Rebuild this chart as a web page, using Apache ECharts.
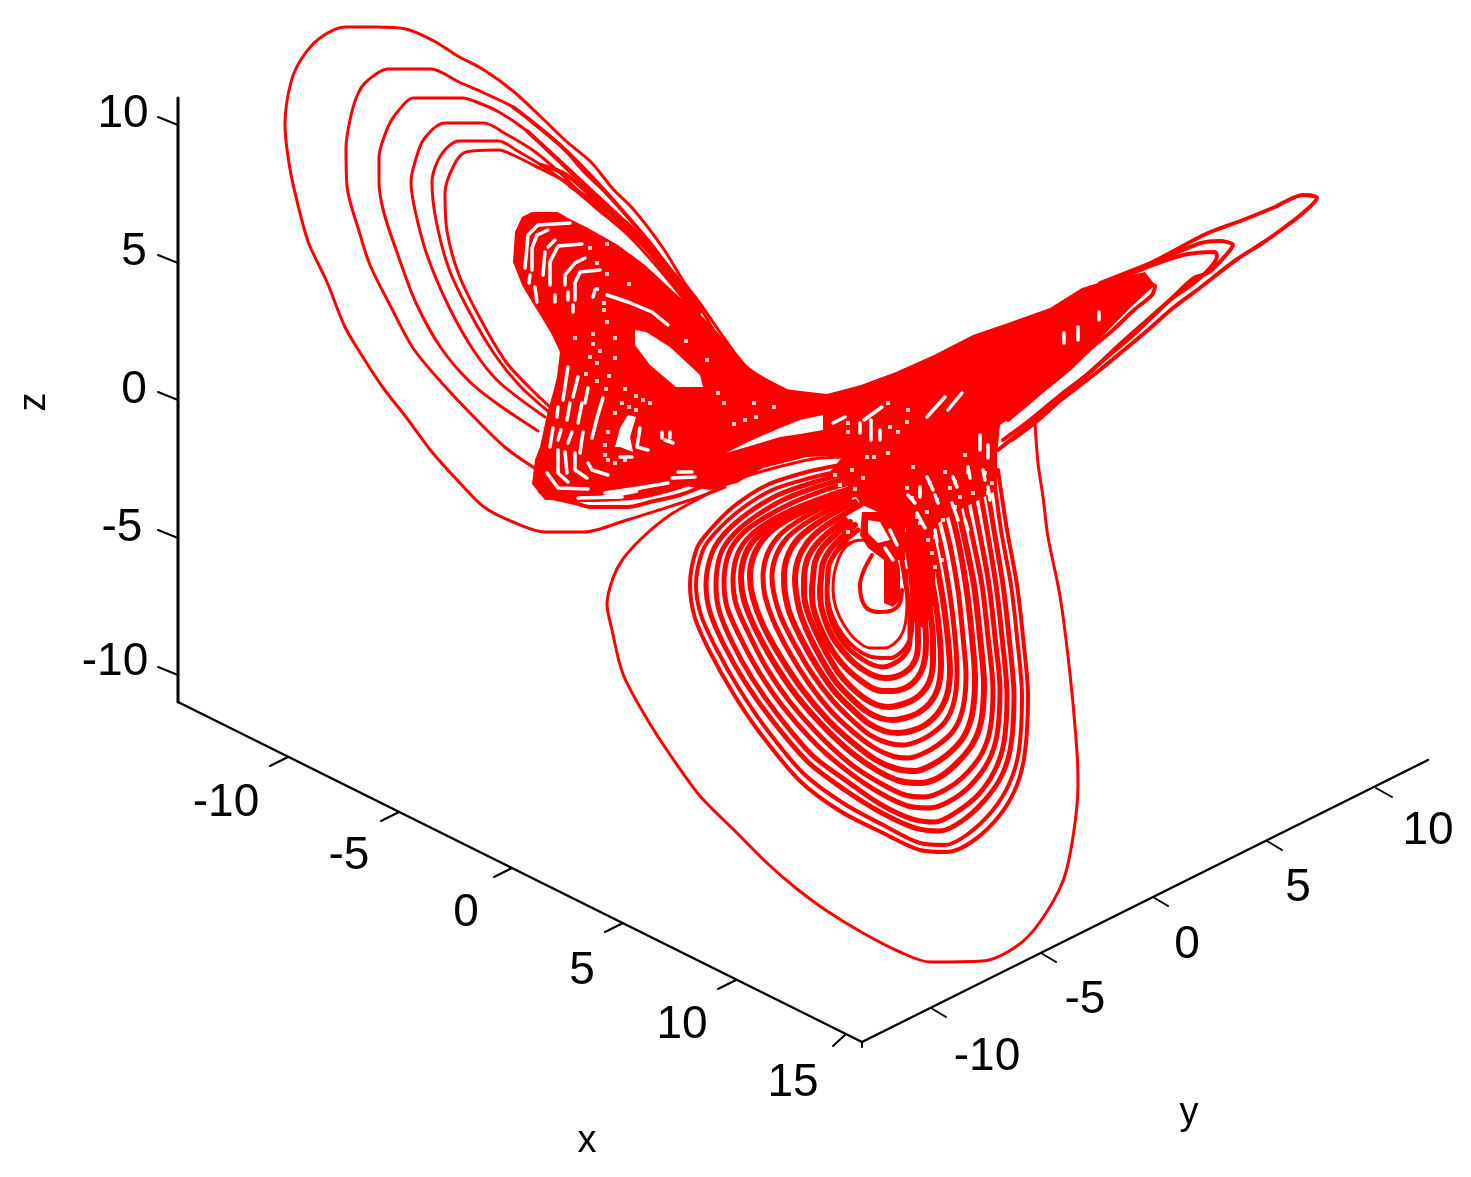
<!DOCTYPE html>
<html>
<head>
<meta charset="utf-8">
<title>3D attractor</title>
<script src="https://cdn.jsdelivr.net/npm/echarts@6/dist/echarts.min.js"></script>
<style>
  html, body { margin: 0; padding: 0; background: #fff; }
  #chart { width: 1471px; height: 1177px; }
</style>
</head>
<body>
<div id="chart"></div>
<script>
const zTickLabels = ['10', '5', '0', '-5', '-10']
const xTickLabels = ['-10', '-5', '0', '5', '10', '15']
const yTickLabels = ['-10', '-5', '0', '5', '10']

const zAxisLine = [[178, 98], [178, 702]]
const xAxisLine = [[178, 702], [862, 1042]]
const yAxisLine = [[862, 1042], [1428, 760]]

const zTicks = [[[178, 125], [158, 117]], [[178, 263], [158, 255]], [[178, 400], [158, 392]], [[178, 538], [158, 530]], [[178, 675], [158, 667]]]
const xTicks = [[[288, 757], [270, 766]], [[399, 812], [381, 821]], [[512, 868], [494, 877]], [[623, 923], [605, 932]], [[736, 980], [718, 989]], [[846, 1034], [833, 1046]]]
const yTicks = [[[931, 1008], [946, 1017]], [[1041, 953], [1056, 962]], [[1153, 897], [1168, 906]], [[1267, 841], [1282, 850]], [[1376, 788], [1392, 797]], [[862, 1042], [862, 1047]]]

const zLabelSpots = [[123, 114], [134, 252], [134, 390], [122, 528], [115, 662]]
const xLabelSpots = [[226, 803], [349, 856], [466, 913], [582, 971], [682, 1025], [793, 1083]]
const yLabelSpots = [[987, 1057], [1085, 1000], [1187, 945], [1298, 888], [1428, 831]]
const axisNames = [['x', 587, 1142, 0], ['y', 1189, 1114, 0], ['z', 35, 402, 90]]

// large loops of the upper left wing
const loopA = [[790, 392], [749, 369], [724, 338], [702, 306], [684, 282], [663, 248], [634, 210], [613, 189], [591, 162], [566, 141], [541, 117], [513, 91], [484, 70], [456, 55], [434, 41], [406, 29], [375, 27], [345, 27], [320, 38], [302, 58], [291, 82], [285, 124], [290, 169], [300, 213], [309, 244], [327, 282], [345, 327], [366, 362], [384, 389], [406, 417], [432, 452], [459, 482], [484, 507], [513, 522], [545, 532], [584, 532], [627, 520], [659, 510], [699, 497], [725, 487]]
const loopB = [[716, 334], [697, 303], [681, 282], [656, 251], [631, 220], [609, 196], [584, 172], [563, 148], [538, 127], [513, 107], [484, 93], [459, 82], [431, 69], [388, 69], [366, 82], [357, 96], [350, 120], [346, 148], [347, 186], [359, 231], [370, 265], [391, 307], [413, 348], [441, 382], [474, 417], [506, 448], [536, 469]]
const loopC = [[695, 310], [677, 286], [652, 255], [631, 231], [606, 207], [577, 179], [552, 155], [527, 131], [499, 112], [474, 101], [463, 98], [413, 98], [399, 110], [388, 127], [379, 158], [379, 182], [384, 213], [399, 258], [416, 303], [441, 348], [470, 382], [499, 405], [538, 431]]
const loopD = [[688, 300], [663, 269], [638, 241], [613, 220], [588, 200], [559, 172], [534, 151], [506, 134], [484, 123], [445, 123], [424, 139], [415, 162], [411, 182], [415, 210], [427, 255], [449, 307], [474, 351], [499, 382], [545, 417]]
const loopE = [[684, 289], [656, 255], [627, 231], [599, 210], [570, 186], [541, 165], [516, 150], [499, 141], [459, 141], [441, 155], [432, 182], [436, 220], [449, 269], [470, 313], [495, 355], [520, 386], [549, 412]]
const loopF = [[695, 313], [659, 269], [627, 234], [595, 207], [566, 182], [541, 169], [513, 155], [499, 150], [466, 152], [454, 165], [445, 193], [447, 231], [459, 275], [481, 320], [506, 362], [531, 389], [550, 407]]
const diagonalStrands = [
  [[513, 107], [530, 120], [560, 145], [590, 175], [620, 208], [650, 243], [675, 277], [700, 312]],
  [[527, 131], [550, 152], [580, 180], [610, 208], [640, 236], [668, 270], [692, 305]],
  [[541, 165], [565, 174], [590, 195], [620, 222], [648, 250], [672, 282], [700, 318]],
  [[570, 186], [600, 206], [630, 228], [660, 260], [690, 298]]
]

// biggest lower loop, comes out of the wing and goes back into the middle
const lowerOuter = [[1035, 423], [1038, 463], [1043, 497], [1048, 537], [1060, 596], [1070, 674], [1077, 752], [1078, 785], [1073, 837], [1063, 881], [1040, 922], [1017, 946], [983, 961], [930, 962], [900, 952], [863, 933], [827, 911], [797, 889], [767, 863], [737, 833], [700, 796], [673, 759], [647, 719], [623, 674], [612, 630], [607, 604], [613, 578], [623, 559], [643, 537], [670, 515], [700, 498], [733, 481], [767, 470], [813, 459], [847, 457]]

// rings of the lower wing, outermost first
const lowerRings = [
  [[998, 470], [1007, 530], [1017, 585], [1023, 637], [1028, 696], [1025, 752], [1017, 785], [1000, 815], [973, 841], [947, 852], [920, 850], [883, 833], [840, 811], [800, 781], [760, 733], [733, 693], [710, 652], [695, 618], [690, 585], [697, 548], [710, 530], [733, 507], [767, 485], [807, 472], [840, 465]],
  [[993, 470], [1001, 530], [1011, 585], [1017, 637], [1022, 696], [1019, 750], [1010, 782], [993, 810], [968, 834], [945, 845], [920, 843], [885, 826], [843, 803], [803, 773], [765, 727], [738, 687], [716, 648], [701, 615], [696, 585], [703, 550], [716, 532], [740, 510], [772, 490], [810, 478], [845, 470]],
  [[985, 475], [994, 530], [1003, 585], [1009, 637], [1014, 696], [1011, 745], [1002, 775], [985, 800], [962, 821], [940, 831], [915, 828], [880, 812], [845, 790], [808, 762], [772, 720], [745, 682], [724, 645], [710, 612], [706, 585], [712, 553], [725, 533], [748, 513], [778, 495], [815, 482], [850, 472]],
  [[978, 480], [987, 530], [996, 585], [1002, 637], [1007, 696], [1004, 742], [995, 770], [978, 795], [955, 813], [935, 822], [912, 819], [880, 804], [848, 782], [812, 755], [778, 715], [752, 678], [732, 642], [719, 610], [716, 585], [721, 553], [735, 533], [756, 516], [785, 499], [820, 486], [855, 476]],
  [[970, 485], [980, 535], [989, 585], [995, 637], [1000, 690], [997, 735], [988, 762], [970, 786], [950, 801], [930, 808], [908, 806], [880, 793], [850, 773], [818, 746], [784, 708], [759, 672], [740, 637], [727, 607], [724, 582], [729, 553], [743, 533], [764, 518], [792, 503], [825, 490], [860, 480]],
  [[962, 490], [972, 535], [982, 585], [988, 637], [993, 690], [990, 730], [981, 755], [963, 777], [945, 790], [925, 797], [905, 795], [880, 783], [852, 765], [822, 738], [790, 702], [766, 667], [748, 632], [736, 604], [733, 580], [738, 553], [751, 535], [772, 520], [798, 507], [830, 495], [865, 484]],
  [[955, 495], [965, 540], [974, 585], [980, 637], [984, 685], [981, 722], [972, 745], [955, 765], [938, 778], [920, 783], [900, 781], [878, 771], [852, 753], [825, 728], [796, 695], [773, 661], [755, 628], [744, 600], [741, 578], [746, 553], [759, 535], [780, 520], [805, 508], [835, 498], [870, 488]],
  [[948, 500], [958, 540], [966, 585], [972, 637], [975, 680], [972, 715], [963, 738], [947, 755], [930, 766], [915, 771], [897, 769], [876, 760], [852, 742], [828, 720], [802, 689], [780, 656], [763, 625], [753, 598], [750, 577], [754, 555], [767, 535], [787, 520], [812, 508], [840, 498], [870, 490]],
  [[940, 505], [950, 545], [958, 590], [963, 637], [966, 675], [963, 708], [954, 730], [938, 745], [922, 754], [908, 758], [892, 756], [873, 747], [852, 731], [830, 710], [808, 682], [788, 650], [773, 620], [765, 596], [763, 577], [767, 555], [778, 537], [795, 523], [818, 510], [845, 498]],
  [[932, 510], [942, 550], [950, 595], [955, 637], [957, 672], [954, 702], [945, 722], [930, 735], [916, 742], [903, 745], [888, 743], [870, 735], [852, 720], [833, 701], [813, 675], [795, 645], [781, 617], [774, 594], [772, 577], [776, 556], [787, 538], [803, 525], [825, 512], [850, 500]],
  [[926, 515], [935, 555], [943, 600], [948, 640], [950, 670], [947, 695], [938, 713], [925, 725], [911, 731], [898, 733], [884, 731], [868, 723], [852, 709], [835, 692], [818, 668], [802, 640], [790, 614], [785, 593], [784, 577], [787, 558], [797, 540], [812, 527], [832, 514], [855, 502]],
  [[920, 520], [928, 560], [936, 605], [940, 640], [941, 665], [938, 688], [930, 703], [918, 713], [905, 718], [893, 720], [880, 718], [866, 711], [851, 698], [836, 682], [822, 660], [809, 635], [800, 612], [796, 592], [795, 578], [798, 560], [807, 543], [820, 530], [838, 518], [860, 505]],
  [[915, 525], [923, 565], [930, 610], [933, 640], [933, 660], [930, 680], [922, 693], [911, 701], [900, 705], [889, 707], [877, 705], [864, 698], [850, 686], [838, 672], [826, 652], [815, 630], [807, 610], [804, 592], [804, 578], [807, 560], [815, 546], [828, 533], [845, 520]],
  [[910, 530], [918, 570], [924, 610], [926, 640], [925, 658], [921, 672], [913, 683], [903, 689], [893, 691], [882, 691], [872, 688], [860, 680], [848, 670], [836, 656], [826, 640], [818, 622], [813, 606], [812, 590], [813, 578], [815, 562], [822, 548], [835, 535], [850, 522]],
  [[905, 535], [912, 575], [917, 615], [918, 640], [917, 655], [912, 666], [904, 673], [895, 677], [885, 678], [875, 676], [865, 671], [853, 662], [842, 650], [832, 636], [825, 620], [821, 605], [820, 590], [821, 578], [823, 563], [830, 550], [842, 537], [855, 525]],
  [[900, 550], [906, 585], [910, 620], [910, 640], [908, 650], [902, 658], [893, 664], [883, 667], [873, 665], [862, 659], [850, 650], [840, 638], [833, 625], [828, 608], [827, 590], [828, 576], [829, 565], [836, 552], [846, 540], [858, 530]],
  [[912, 600], [912, 630], [905, 648], [890, 658], [872, 657], [855, 648], [842, 634], [833, 618], [828, 600], [827, 582], [829, 565], [838, 550], [850, 543]],
  [[907, 570], [907, 600], [905, 625], [898, 640], [885, 648], [870, 648], [856, 640], [844, 625], [836, 608], [833, 590], [835, 570], [843, 550], [855, 541], [868, 540]]
]
const ringWidths = [4, 4, 5, 5, 5, 5, 6, 6, 5, 5, 6, 6, 6, 6, 6, 5, 4, 3]
const innerLoop = [[872, 555], [864, 570], [860, 585], [862, 600], [868, 609], [880, 612], [893, 610], [900, 603], [902, 590]]

// strands running out along the right wing
const wingLoops = [
  [[1089, 288], [1131, 273], [1166, 255], [1208, 233], [1243, 220], [1275, 207], [1303, 195], [1317, 198], [1303, 213], [1285, 227], [1264, 242], [1236, 260], [1201, 287], [1173, 308], [1148, 330], [1124, 350], [1096, 373], [1061, 400], [1036, 422], [1012, 440]],
  [[1100, 283], [1166, 257], [1201, 243], [1219, 241], [1233, 245], [1226, 255], [1208, 273], [1194, 278], [1173, 297], [1152, 317], [1131, 337], [1106, 358], [1078, 383], [1047, 410], [1019, 433], [998, 450]],
  [[1120, 278], [1145, 268], [1183, 255], [1215, 252], [1217, 256], [1201, 277], [1169, 301], [1145, 322], [1118, 346], [1090, 372], [1058, 397], [1030, 420], [1003, 440]],
  [[1100, 298], [1145, 284], [1155, 286], [1152, 295], [1134, 310], [1113, 330], [1089, 350], [1068, 370], [1040, 393], [1008, 420]]
]

// strands under the left wing, heading for the middle
const bottomStrands = [
  [[548, 497], [575, 503], [590, 507], [628, 507], [650, 502], [680, 495], [710, 483], [730, 473]],
  [[590, 500], [640, 497], [680, 487], [720, 473], [760, 461], [800, 447], [835, 437]],
  [[640, 492], [680, 481], [720, 467], [760, 453], [800, 441], [835, 433]],
  [[540, 492], [570, 500], [620, 498], [660, 489], [700, 476], [740, 462], [780, 451], [820, 440]]
]

// outlines of the parts that are solid red in the picture
const coreOutline = [[532, 212], [558, 212], [568, 218], [588, 228], [618, 245], [645, 265], [675, 293], [699, 313], [720, 335], [749, 369], [784, 389], [827, 394], [861, 385], [896, 372], [934, 355], [973, 335], [1008, 323], [1050, 308], [1082, 288], [1110, 280], [1145, 272], [1155, 285], [1131, 307], [1096, 343], [1061, 375], [1026, 407], [1000, 425], [997, 455], [997, 490], [960, 510], [935, 525], [905, 528], [885, 515], [862, 505], [843, 480], [830, 472], [843, 456], [807, 457], [763, 468], [737, 483], [710, 490], [680, 485], [630, 490], [590, 498], [560, 500], [545, 500], [532, 484], [535, 460], [540, 447], [548, 410], [553, 393], [557, 377], [560, 352], [552, 335], [542, 318], [532, 302], [522, 285], [513, 262], [515, 232], [522, 217]]
const eyeBlock = [[905, 515], [935, 515], [935, 600], [925, 630], [912, 620], [908, 570]]
const eyeCore = [[884, 548], [884, 603], [893, 607], [900, 600], [900, 570], [895, 545]]
const eyeBridge = [[862, 512], [905, 512], [905, 560], [884, 560], [868, 548], [860, 535]]

// white openings inside the solid parts
const leftHole = [[635, 330], [646, 332], [670, 347], [700, 375], [703, 387], [676, 387], [650, 365], [635, 345]]
const middleWedge = [[726, 453], [750, 441], [780, 428], [800, 420], [823, 415], [823, 430], [800, 434], [780, 437], [750, 446]]
const eyePatch = [[868, 520], [880, 522], [890, 540], [878, 543], [868, 533]]
const lobePatch = [[628, 415], [636, 417], [630, 437], [633, 452], [620, 447], [615, 447], [620, 428]]

const slits = [
  [[570, 223], [538, 225], [528, 235], [525, 268]],
  [[548, 230], [537, 235], [532, 248], [532, 270]],
  [[545, 252], [543, 275]],
  [[582, 244], [558, 246], [550, 262], [550, 285]],
  [[555, 240], [548, 247]],
  [[585, 258], [575, 263], [565, 275], [565, 285]],
  [[600, 270], [580, 272], [575, 283], [575, 300]],
  [[535, 287], [537, 302]], [[555, 295], [555, 302]], [[568, 292], [568, 300]], [[573, 305], [573, 312]], [[595, 290], [593, 297]], [[530, 275], [529, 283]],
  [[607, 295], [628, 302], [652, 312], [668, 325]],
  [[568, 367], [563, 400]], [[578, 377], [573, 397]], [[588, 388], [585, 403]],
  [[603, 398], [597, 418], [592, 438]],
  [[582, 403], [578, 423]], [[570, 403], [567, 420]], [[558, 407], [557, 417]],
  [[553, 428], [550, 447]], [[561, 430], [558, 440]], [[572, 432], [568, 443]], [[583, 432], [580, 453]],
  [[565, 452], [567, 473]],
  [[575, 453], [575, 470], [587, 478]],
  [[558, 450], [558, 473], [568, 482]],
  [[547, 473], [558, 488], [588, 489]],
  [[588, 463], [592, 470], [608, 475]],
  [[640, 428], [637, 447], [648, 450]],
  [[662, 432], [662, 438]], [[670, 432], [670, 438]], [[665, 440], [673, 443]],
  [[620, 457], [632, 457]],
  [[605, 493], [645, 487], [668, 483]], [[578, 498], [622, 497]],
  [[678, 472], [692, 472]], [[672, 478], [695, 477]],
  [[927, 417], [945, 397]], [[948, 410], [962, 393]], [[1078, 327], [1078, 340]], [[1064, 333], [1064, 343]], [[1099, 312], [1099, 320]],
  [[833, 423], [845, 417]], [[864, 420], [882, 407]], [[860, 423], [860, 433]], [[871, 420], [871, 440]], [[880, 430], [880, 440]],
  [[980, 435], [980, 450]], [[988, 445], [988, 458]],
  [[927, 477], [933, 490]], [[953, 477], [957, 487]], [[968, 467], [970, 478]], [[983, 470], [985, 480]],
  [[920, 487], [920, 497]], [[908, 495], [915, 503]], [[935, 495], [938, 503]], [[952, 503], [958, 520]],
  [[917, 513], [925, 528]], [[935, 530], [937, 542]], [[965, 520], [968, 530]], [[988, 487], [990, 500]],
  [[890, 530], [897, 545]], [[885, 548], [893, 560]]
]

const specks = [
  [590, 248], [607, 244], [597, 263], [607, 274], [629, 284], [597, 289], [604, 303], [604, 310], [607, 322], [575, 338], [593, 334], [615, 338], [593, 344], [600, 351], [590, 357], [615, 358], [597, 363], [586, 374], [609, 376], [597, 381], [606, 389], [625, 389], [636, 396], [643, 400], [622, 403], [650, 403], [629, 407], [636, 410], [707, 360], [686, 341], [718, 393], [724, 403], [754, 403], [774, 407], [756, 417], [745, 420], [734, 424],
  [848, 423], [848, 432], [890, 427], [898, 432], [888, 403], [908, 410], [907, 422], [888, 453], [867, 457], [874, 457], [913, 467], [965, 455], [945, 472], [968, 472], [985, 473], [992, 483], [930, 483], [920, 492], [950, 488], [955, 482], [907, 488], [912, 498], [937, 500], [960, 497], [988, 493], [973, 493], [955, 507], [943, 520], [927, 512], [917, 517], [920, 523], [935, 537], [928, 540], [932, 553], [942, 560], [935, 567], [852, 470], [863, 478], [835, 475], [855, 489], [840, 485], [848, 532],
  [615, 413], [608, 432], [605, 445], [605, 455], [608, 460], [615, 463], [625, 460]
]

const RED = '#ff0000'
const WHITE = '#ffffff'
const BLACK = '#000000'

const trace = (data, width, color = RED, z = 2) => ({
  type: 'line',
  data,
  smooth: 0.3,
  symbol: 'none',
  silent: true,
  z,
  lineStyle: { color, width, cap: 'round', join: 'round' }
})

const straight = (data, width) => ({ ...trace(data, width, BLACK, 4), smooth: false })

const shape = (points, fill, z) => ({
  type: 'custom',
  coordinateSystem: 'cartesian2d',
  data: points,
  silent: true,
  z,
  renderItem: (params, api) => {
    if (params.dataIndex !== 0) return null
    return { type: 'polygon', shape: { points: points.map(p => api.coord(p)) }, style: { fill } }
  }
})

const labels = (spots, texts, fontSize, rotate = 0) => ({
  type: 'custom',
  coordinateSystem: 'cartesian2d',
  data: spots,
  silent: true,
  z: 5,
  renderItem: (params, api) => {
    const [x, y] = api.coord(spots[params.dataIndex])
    return {
      type: 'text',
      x,
      y,
      rotation: rotate * Math.PI / 180,
      style: {
        text: texts[params.dataIndex],
        font: fontSize + 'px "Liberation Sans"',
        fill: BLACK,
        align: 'center',
        verticalAlign: 'middle'
      }
    }
  }
})

const series = [
  shape(coreOutline, RED, 1),
  shape(eyeBlock, RED, 1),
  shape(eyeCore, RED, 1),
  shape(eyeBridge, RED, 1),
  ...[loopA, loopB, loopC, loopD, loopE, loopF, lowerOuter].map(d => trace(d, 3)),
  ...diagonalStrands.map(d => trace(d, 4)),
  ...lowerRings.map((d, i) => trace(d, ringWidths[i])),
  trace(innerLoop, 4),
  ...wingLoops.map(d => trace(d, 4)),
  ...bottomStrands.map(d => trace(d, 4)),
  shape(leftHole, WHITE, 3),
  shape(middleWedge, WHITE, 3),
  shape(eyePatch, WHITE, 3),
  shape(lobePatch, WHITE, 3),
  ...slits.map(d => ({ ...trace(d, 3.5, WHITE, 3), smooth: false })),
  {
    type: 'scatter',
    data: specks,
    symbol: 'rect',
    symbolSize: 4,
    silent: true,
    z: 3,
    itemStyle: { color: WHITE }
  },
  straight(zAxisLine, 3),
  straight(xAxisLine, 2.5),
  straight(yAxisLine, 2.5),
  ...[...zTicks, ...xTicks, ...yTicks].map(d => straight(d, 2)),
  labels(zLabelSpots, zTickLabels, 46),
  labels(xLabelSpots, xTickLabels, 46),
  labels(yLabelSpots, yTickLabels, 46),
  ...axisNames.map(n => labels([[n[1], n[2]]], [n[0]], 38, n[3]))
]

const chart = echarts.init(document.getElementById('chart'), null, { renderer: 'canvas' })
chart.setOption({
  animation: false,
  backgroundColor: WHITE,
  grid: { left: 0, right: 0, top: 0, bottom: 0 },
  xAxis: { type: 'value', min: 0, max: 1471, show: false },
  yAxis: { type: 'value', min: 0, max: 1177, inverse: true, show: false },
  series
})
</script>
</body>
</html>
